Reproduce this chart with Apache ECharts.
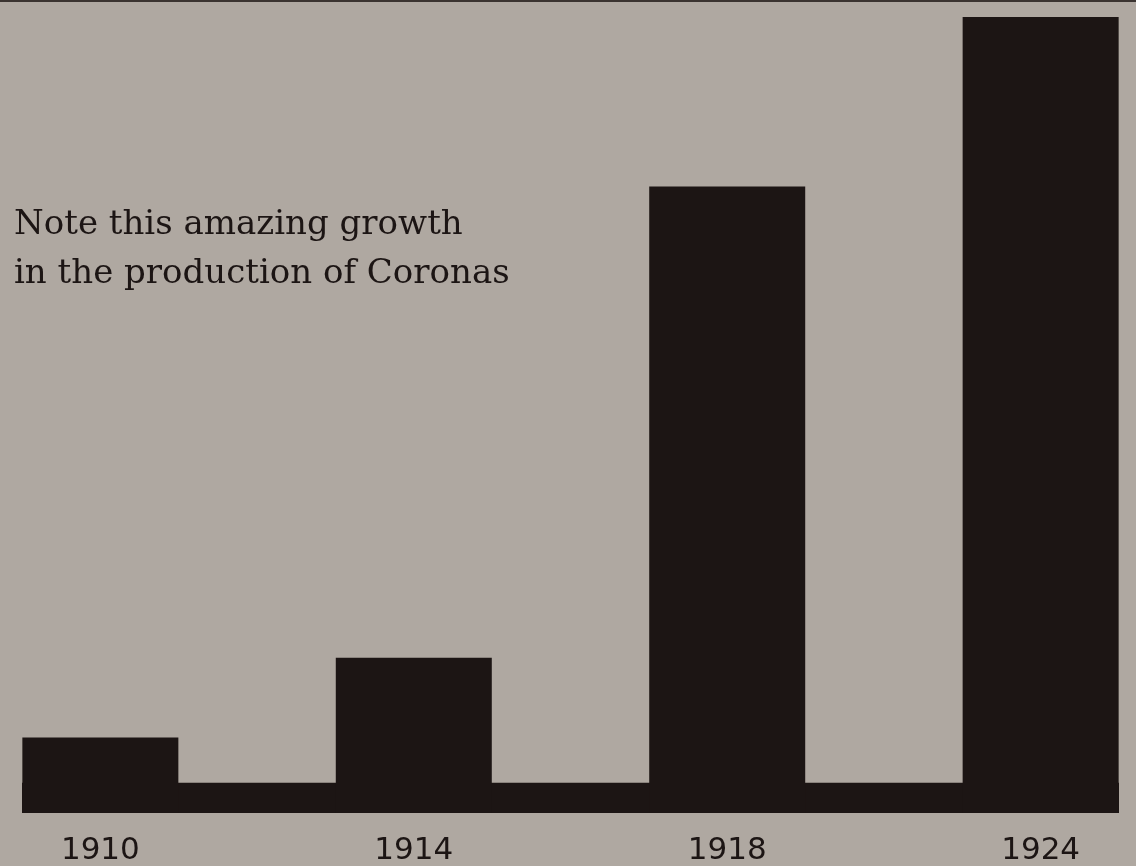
<!DOCTYPE html>
<html>
<head>
<meta charset="utf-8">
<script src="https://cdn.jsdelivr.net/npm/echarts@6/dist/echarts.min.js"></script>
<style>
  html, body { margin: 0; padding: 0; background: #aea8a2; }
  #main { width: 1136px; height: 866px; }
</style>
</head>
<body>
<div id="main"></div>
<script>
// production index, 1924 = 100
var years = ['1910', '1914', '1918', '1924'];
var production = [9.5, 19.5, 78.7, 100];
var baseLevel = 3.8;        // the dark base strip tying the bars together
var yMax = 100;

var ink = '#1c1514';
var myChart = echarts.init(document.getElementById('main'));

var option = {
    backgroundColor: '#afa8a1',
    title: {
        text: 'Note this amazing growth\nin the production of Coronas',
        left: 9,
        top: 196,
        textStyle: {
            fontFamily: 'DejaVu Serif',
            fontWeight: 'normal',
            fontSize: 34,
            lineHeight: 49,
            color: ink
        }
    },
    grid: {
        left: 22,
        right: 17,
        top: 17,
        bottom: 51
    },
    xAxis: {
        type: 'value',
        min: -0.25,
        max: 3.25,
        axisLine: { show: false },
        axisTick: { show: false },
        splitLine: { show: false },
        axisLabel: {
            customValues: [0, 1, 2, 3],
            formatter: function (v) { return years[Math.round(v)]; },
            margin: 22,
            fontFamily: 'DejaVu Sans',
            fontSize: 31,
            color: ink
        }
    },
    yAxis: {
        type: 'value',
        min: 0,
        max: yMax,
        show: false
    },
    series: [
        {
            type: 'bar',
            barWidth: 156,
            clip: false,
            data: production.map(function (v, i) { return [i, v]; }),
            itemStyle: { color: ink },
            silent: true,
            markArea: {
                silent: true,
                itemStyle: { color: ink, opacity: 1 },
                data: [[{ yAxis: 0 }, { yAxis: baseLevel }]]
            }
        }
    ],
    graphic: [
        {
            type: 'rect',
            shape: { x: 0, y: 0, width: 1136, height: 2 },
            style: { fill: '#3a3330' }
        }
    ]
};

myChart.setOption(option);
</script>
</body>
</html>
